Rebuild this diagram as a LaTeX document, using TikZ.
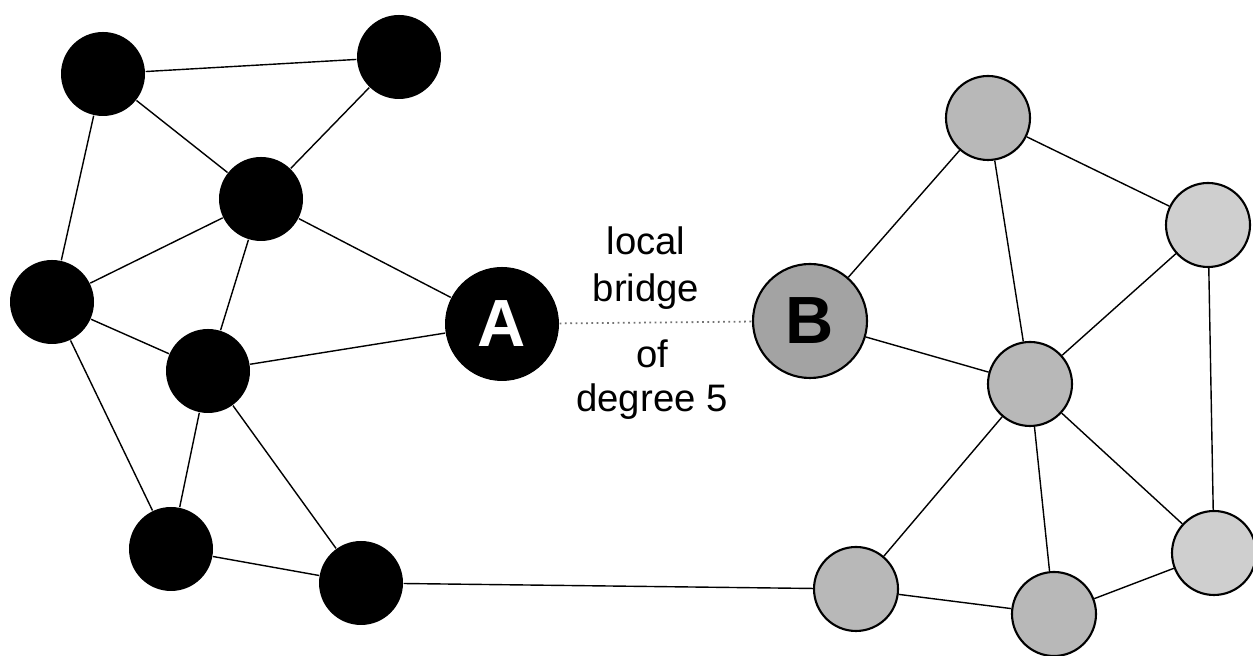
\documentclass[tikz,border=0pt]{standalone}
\usepackage{fontspec}
\setmainfont{Liberation Sans}

\begin{document}
\begin{tikzpicture}[
    dark/.style={circle,fill=black,inner sep=0pt,minimum size=0.84cm},
    shade/.style={circle,draw=black,line width=0.6pt,fill=black!28,inner sep=0pt,minimum size=0.84cm},
    pale/.style={shade,fill=black!19},
    big/.style={minimum size=1.14cm,font=\fontsize{19}{19}\selectfont\bfseries},
    link/.style={line width=0.4pt},
    bridge/.style={black!55,line width=0.5pt,densely dotted}
  ]
        \useasboundingbox (0,0) rectangle (12.53,6.56);

        % left cluster
        \node[dark] (a1) at ( 1.03, 5.82) {};
        \node[dark] (a2) at ( 3.99, 5.99) {};
        \node[dark] (a3) at ( 2.61, 4.57) {};
        \node[dark] (a4) at ( 0.52, 3.54) {};
        \node[dark] (a5) at ( 2.08, 2.85) {};
        \node[dark] (a6) at ( 1.71, 1.07) {};
        \node[dark] (a7) at ( 3.61, 0.73) {};
        \node[dark,big,text=white] (A) at ( 5.02, 3.32) {A};

        % right cluster
        \node[shade,big,fill=black!36] (B) at ( 8.10, 3.35) {B};
        \node[shade] (b1) at ( 9.88, 5.38) {};
        \node[pale]  (b2) at (12.08, 4.31) {};
        \node[shade] (b3) at (10.30, 2.72) {};
        \node[pale]  (b4) at (12.14, 1.03) {};
        \node[shade] (b5) at ( 8.56, 0.67) {};
        \node[shade] (b6) at (10.54, 0.42) {};

        \node[align=center,font=\fontsize{10.9}{13.5}\selectfont] (top) at (6.46, 3.88) {local\\bridge};
        \node[align=center,font=\fontsize{10.9}{12.5}\selectfont] (bot) at (6.52, 2.76) {of\\degree 5};

        \draw[link] (a1) to (a2);
        \draw[link] (a1) to (a3);
        \draw[link] (a1) to (a4);
        \draw[link] (a2) to (a3);
        \draw[link] (a3) to (a4);
        \draw[link] (a3) to (A);
        \draw[link] (a3) to (a5);
        \draw[link] (a4) to (a5);
        \draw[link] (a4) to (a6);
        \draw[link] (a5) to (A);
        \draw[link] (a5) to (a6);
        \draw[link] (a5) to (a7);
        \draw[link] (a6) to (a7);
        \draw[link] (a7) to (b5);

        \draw[link] (B)  to (b1);
        \draw[link] (B)  to (b3);
        \draw[link] (b1) to (b3);
        \draw[link] (b1) to (b2);
        \draw[link] (b2) to (b3);
        \draw[link] (b2) to (b4);
        \draw[link] (b3) to (b5);
        \draw[link] (b3) to (b6);
        \draw[link] (b3) to (b4);
        \draw[link] (b5) to (b6);
        \draw[link] (b6) to (b4);

        \draw[bridge] (A) to (B);
      \end{tikzpicture}
\end{document}
